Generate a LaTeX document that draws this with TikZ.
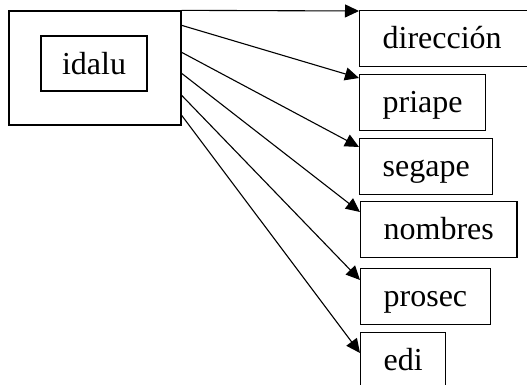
\documentclass[tikz,border=0pt]{standalone}
\usepackage{fontspec}
\setmainfont{Liberation Serif}
\usetikzlibrary{arrows.meta}
\tikzset{
	campo/.style={draw, line width=0.65pt, anchor=north west, minimum height=28pt, inner xsep=11.5pt, inner ysep=0pt, text height=12.5pt, text depth=2.5pt, font=\fontsize{16pt}{19pt}\selectfont},
	flecha/.style={line width=0.55pt, -{Triangle[length=7pt,width=6.5pt]}}
}
\begin{document}
\begin{tikzpicture}[x=0.5pt,y=0.5pt,yscale=-1,xscale=1]
	%set diagram size to 527 x 385
	\clip (0,0) rectangle (527,385);
	
	%Shape: Rectangle [outer]
	\node [draw, line width=0.65pt, minimum width=86pt, minimum height=57pt, inner sep=0pt] (outer) at (95,68) {};
	%Shape: Rectangle [idalu]
	\node [draw, line width=0.65pt, minimum width=53pt, minimum height=27.5pt, inner sep=0pt, font=\fontsize{16pt}{19pt}\selectfont] (idalu) at (94,63.5) {idalu};
	
	% Text Nodes
	\node [campo, text width=70pt, align=left] (direccion) at (359,10) {dirección};
	\node [campo] (priape) at (359,74) {priape};
	\node [campo] (segape) at (359,138) {segape};
	\node [campo] (nombres) at (360,201) {nombres};
	\node [campo] (prosec) at (360,268) {prosec};
	\node [campo] (edi) at (360,332) {edi};
	
	%Straight Lines
	\draw [flecha] (outer.north east) -- ([yshift=0.5pt]direccion.north west);
	\draw [flecha] ([yshift=7.5pt]outer.north east) -- ([yshift=2pt]priape.north west);
	\draw [flecha] ([yshift=21pt]outer.north east) -- ([yshift=4.5pt]segape.north west);
	\draw [flecha] ([yshift=31.5pt]outer.north east) -- ([yshift=5.5pt]nombres.north west);
	\draw [flecha] ([yshift=42.5pt]outer.north east) -- ([yshift=6pt]prosec.north west);
	\draw [flecha] ([yshift=52.5pt]outer.north east) -- ([yshift=10.5pt]edi.north west);
	
\end{tikzpicture}
\end{document}
